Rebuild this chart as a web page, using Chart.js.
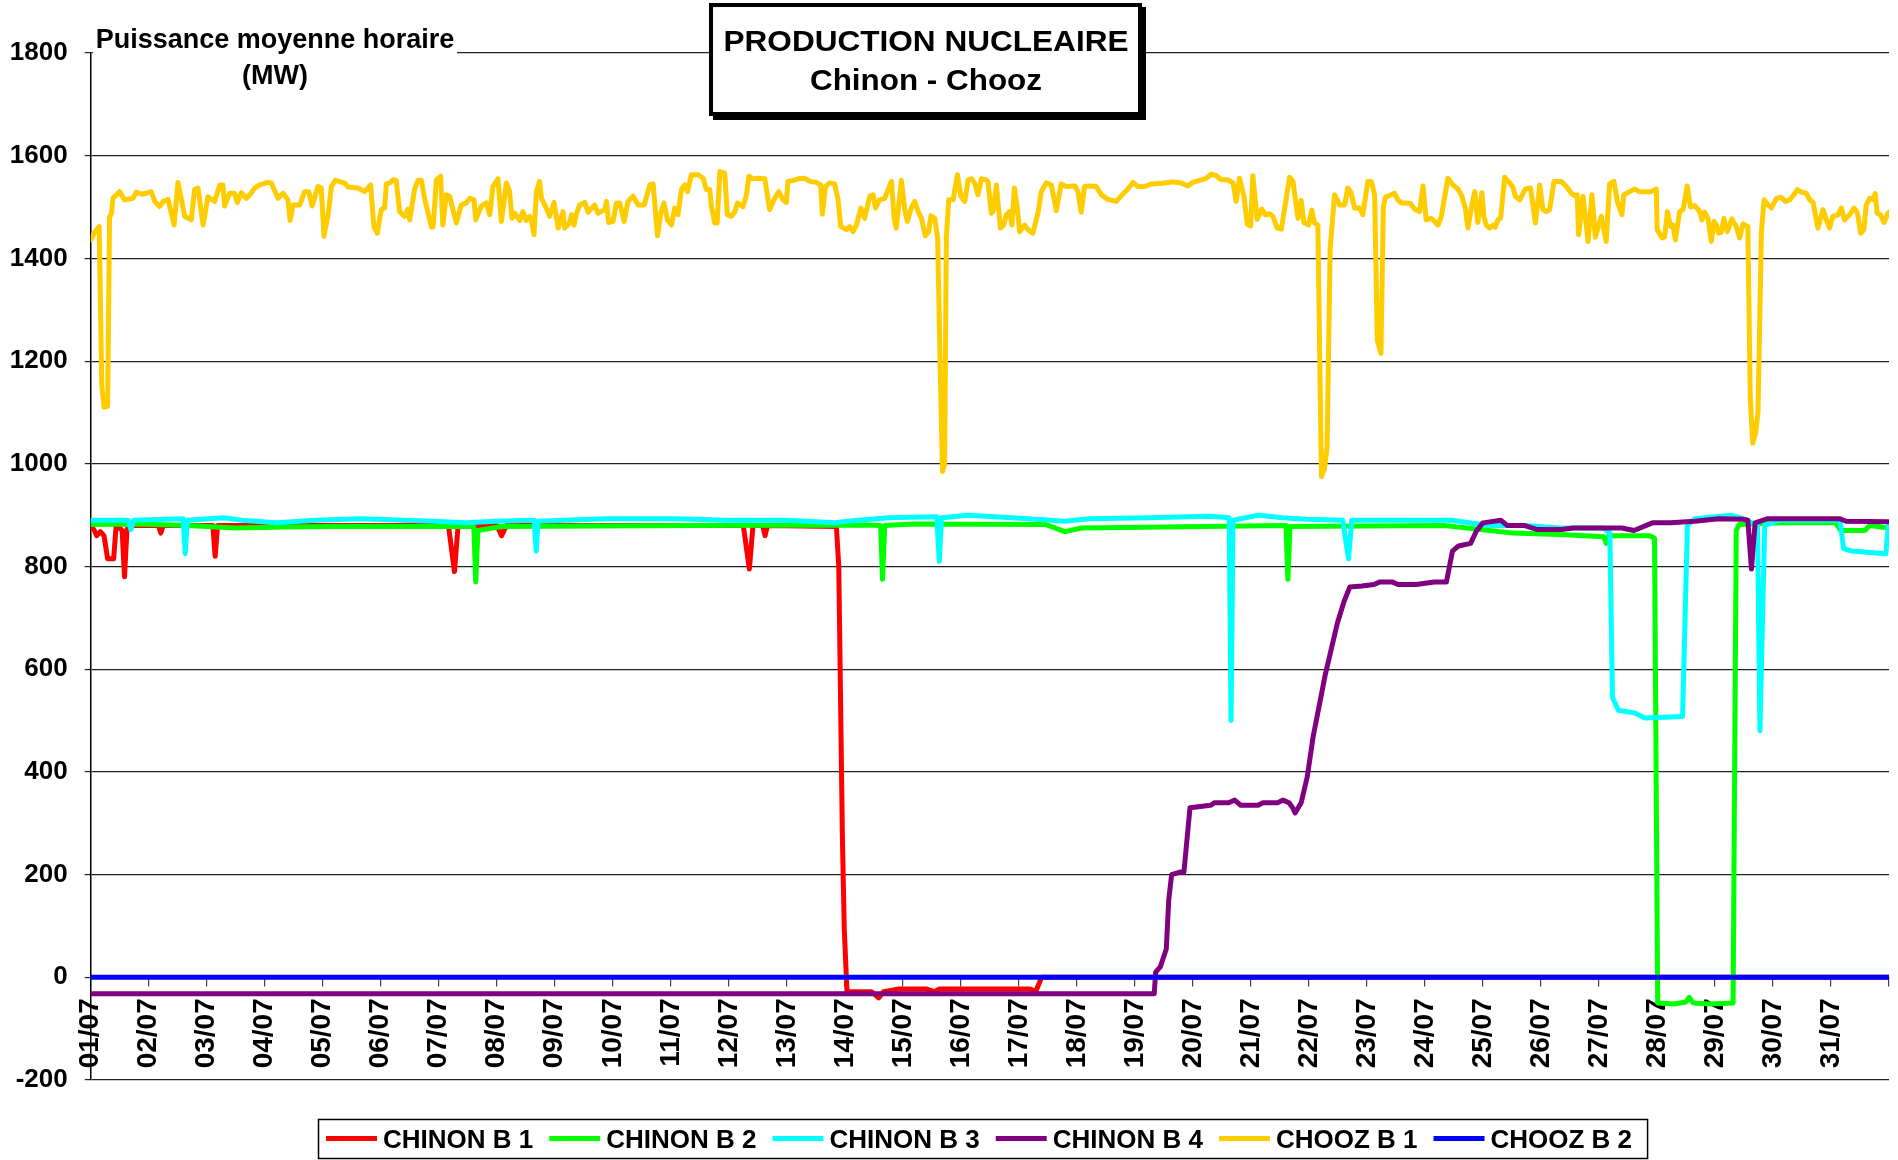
<!DOCTYPE html>
<html>
<head>
<meta charset="utf-8">
<script src="https://cdn.jsdelivr.net/npm/chart.js@4.4.0/dist/chart.umd.min.js"></script>
<style>
  html, body { margin: 0; padding: 0; background: #fff; }
  canvas { display: block; }
</style>
</head>
<body>
<canvas id="myChart" width="1898" height="1160"></canvas>
<script>
// day labels on the time axis (one tick every 24 h, hours 0..744)
var dayLabels = ['01/07','02/07','03/07','04/07','05/07','06/07','07/07','08/07','09/07','10/07',
  '11/07','12/07','13/07','14/07','15/07','16/07','17/07','18/07','19/07','20/07',
  '21/07','22/07','23/07','24/07','25/07','26/07','27/07','28/07','29/07','30/07','31/07'];
var dayTicks = [0,24,48,72,96,120,144,168,192,216,240,264,288,312,336,360,384,408,432,456,
  480,504,528,552,576,600,624,648,672,696,720,744];
var powerTicks = [-200, 0, 200, 400, 600, 800, 1000, 1200, 1400, 1600, 1800];

var seriesNames = ['CHINON B 1', 'CHINON B 2', 'CHINON B 3', 'CHINON B 4', 'CHOOZ B 1', 'CHOOZ B 2'];
var seriesColors = ['#ff0000', '#00ff00', '#00ffff', '#800080', '#ffcc00', '#0000ff'];

// CHINON B 1
var b1Hours = [0, 1.5, 2.5, 4, 5.5, 7, 9.5, 10.5, 12, 13, 14, 15, 16.5, 28, 29, 30, 50.5, 51.5, 52.5,
  148, 150.5, 152, 168, 170, 172, 270, 272.5, 274, 278, 279, 280, 308.5, 309.5, 311, 311.8, 312.9,
  323, 326, 328, 334, 346, 349, 351, 388.7, 391, 393.4, 744];
var b1Values = [880, 870, 860, 868, 860, 815, 815, 878, 875, 870, 780, 872, 880, 880, 865, 880, 880, 820, 880,
  880, 790, 880, 880, 860, 880, 880, 795, 880, 880, 860, 880, 878, 800, 270, 90, -28,
  -28, -40, -28, -23, -23, -28, -23, -23, -28, 0, 0];

// CHINON B 2
var b2Hours = [0, 20, 40, 60, 80, 100, 158.5, 159.3, 160.2, 170, 250, 320, 326.8, 327.6, 328.5, 340,
  395, 403, 410, 494.5, 495.3, 496.2, 560, 575, 588.5, 610, 626, 627, 628, 645, 647, 648.3, 655, 660,
  661.3, 663, 670, 679.5, 680.8, 682, 700, 722, 724, 734, 736, 744];
var b2Values = [882, 883, 880, 875, 877, 878, 878, 770, 870, 878, 880, 881, 880, 775, 880, 883,
  882, 868, 875, 880, 775, 878, 880, 872, 865, 862, 858, 845, 860, 860, 855, -50, -52, -48,
  -39, -50, -52, -50, 870, 882, 885, 885, 870, 870, 880, 875];

// CHINON B 3
var b3Hours = [0, 15.5, 16.6, 17.8, 38.2, 39.1, 40, 55, 62.5, 77, 93, 112, 142, 155, 168, 183.5, 184.3,
  185.1, 213, 243, 263, 288, 308, 313, 330, 350, 351.1, 352, 363, 388, 403, 413, 438, 463, 471, 471.8,
  472.6, 483.3, 493, 503, 518, 520.4, 521.7, 538, 563, 578.4, 593, 608, 626, 628.5, 629.6, 632, 638.6,
  643, 658.6, 660.6, 663.6, 678.6, 683.6, 689.6, 690.6, 692.6, 698.5, 723.7, 725.2, 728.6, 742.7, 743.7];
var b3Values = [890, 890, 872, 890, 893, 825, 890, 895, 890, 885, 890, 893, 888, 885, 888, 890, 830,
  888, 893, 893, 890, 890, 885, 888, 895, 897, 810, 895, 900, 893, 888, 893, 895, 898, 895, 500,
  890, 900, 895, 892, 890, 815, 890, 890, 890, 880, 880, 875, 875, 865, 545, 520, 515,
  505, 508, 880, 893, 900, 893, 880, 480, 880, 890, 890, 835, 830, 825, 880];

// CHINON B 4
var b4Hours = [0, 440, 440.6, 441.5, 442.5, 445, 446, 447.2, 450.7, 452.3, 454.8, 463.3, 465, 470.8,
  473.3, 475.8, 483, 485, 491, 493.3, 495.8, 497.3, 498.3, 500.8, 503.3, 505.8, 508.3, 510.8, 513.3,
  515.8, 518.4, 520.9, 525.9, 530.9, 533.4, 538.4, 540.9, 548.4, 555.9, 560.9, 563.4, 565.9, 570.9,
  573.4, 576, 583.5, 586, 593, 598.5, 608.5, 613.5, 633.5, 638.5, 641, 646.1, 653.6, 663.6, 673.6,
  683.6, 685.6, 687.1, 688.6, 693.6, 723.7, 726.2, 744];
var b4Values = [-32, -32, 10, 15, 20, 55, 150, 200, 205, 205, 330, 335, 340, 340,
  345, 335, 335, 340, 340, 345, 340, 330, 320, 340, 390, 470, 530, 590, 640,
  690, 730, 760, 762, 765, 770, 770, 765, 765, 770, 770, 830, 840, 845,
  870, 885, 890, 880, 880, 872, 872, 875, 875, 870, 875, 885, 885, 888, 893,
  892, 890, 795, 885, 893, 893, 888, 887];

// CHOOZ B 1
var cb1Hours = [0, 1.5, 3.5, 4.6, 5.5, 7, 7.8, 8.6, 9.2, 12, 14, 17.5, 18.9, 21, 23, 25, 26.5, 28.5, 30, 32,
  34.5, 36.1, 38.9, 41.6, 43, 44.4, 46.5, 48.5, 51.3, 53.4, 54.7, 55.4, 57.5, 59.5, 60.7, 62.3, 64.4,
  66.4, 67.8, 69.9, 73.3, 74.7, 77.5, 79.6, 81.6, 82.5, 83.7, 86.5, 88.5, 90.2, 91.6, 94, 95.4, 96.5,
  98.2, 99.6, 101.2, 105, 106.4, 110.6, 113.3, 115.8, 117.2, 118.6, 120.2, 121.6, 122.3, 123.7, 125.1,
  126.4, 127.8, 129.9, 131.3, 132, 134, 135.4, 136.8, 138.4, 141, 141.7, 143, 144.8, 145.7, 147.1,
  148.5, 150.6, 151.3, 153.3, 155.4, 156.8, 158.6, 159.3, 161.6, 163.7, 165.1, 166.4, 168.5, 169.9,
  172, 173.3, 174.3, 175.4, 177.5, 178.8, 180.2, 181.6, 182.3, 183.4, 184.4, 185.7,
  186.5, 188.5, 189.9, 191.7, 193.4, 195.4, 196.1, 198.2, 198.9, 200, 201, 202.3, 204.4, 205.8, 208.5,
  209.9, 212.7, 213.4, 214.3, 216.1, 217.5, 218.9, 220.7, 222.3, 224.4, 226.5, 229, 231.3, 232.7,
  234.5, 235.9, 237.2, 238.6, 240.3, 241.6, 243, 244.4, 245.8, 246.9, 248.5, 251.3, 253.4, 254.7,
  256.1, 256.8, 258.2, 259.2, 260.3, 262.3, 263.4, 265.1, 266.5, 267.6, 269.9, 271.3, 272.3, 274,
  276.1, 278.9, 280.9, 283, 284.7, 286.4, 287.8, 288.5, 290.6, 292.7, 295.4, 297.5, 300.2, 302,
  302.7, 304, 305.8, 307.8, 309.2, 310.3, 312.7, 314, 315.4, 316.8, 318.6, 320.2, 322.3, 323.7,
  324.7, 326.4, 328.5, 329.9, 331.3, 332.4, 333.3, 335.4, 336.8, 337.9, 339.5, 340.9, 342.6, 343.7,
  345.3, 346.7, 347.6, 349.2, 350.4, 351.4, 352.4, 353.3, 354, 355, 356.8, 358.6, 360, 361.6, 363,
  364.4, 365.7, 367.1, 368.5, 370.5,
  371.2, 372.6, 373.3, 374.7, 376.4, 377.8, 378.8, 380.2, 381.1, 382.2, 383.3, 384.3, 386.4, 387.8,
  389.8, 391.9, 393.3, 395.3, 397.4, 399.5, 401.5, 403.6, 407.3, 408.4, 409.8, 411.2, 413.3, 416,
  418.1, 420.8, 424.3, 426.4, 429.1, 431.2, 433.3, 436, 438.8, 444.3, 447.7, 451.2, 453.9, 456,
  459.5, 461.5, 463.6, 465.7, 467.7, 470.5, 472.6, 473.9, 475.3, 477.1, 478.5, 479.9, 480.8, 482.6,
  484.5, 485.9, 487.7, 489.1, 490.9, 492.6, 494.2, 496, 497.4, 499.5, 500.8, 501.9, 503.9, 505.2,
  506.3, 507.7, 509.2, 510.4, 511.5, 512.8, 514.6, 516.7, 518.8, 520.1, 521.5, 522.9, 525, 526.3,
  528.4, 529.8, 531.2, 532.3, 533.8, 534.8, 535.6, 538, 539.4, 540.8, 542.2, 544.3, 546, 547.7,
  549.8, 551.2, 552.5, 554.6, 556,
  557.4, 558.8, 561.5, 563.6, 565.7, 567.3, 568.7, 569.8, 571.2, 572.6, 573.9, 575.6, 576.4, 577.4,
  578.8, 580.2, 581.1, 582.2, 583.3, 585, 587.1, 588.4, 589.4, 591.2, 593.5, 595.7, 597.7, 599.5,
  600.8, 602.2, 603.6, 605.4, 608.4, 610.5, 612.6, 614, 615, 615.6, 617.4, 619.5, 621.1, 622.5,
  625, 627, 628.4, 630.2, 631.6, 633.5, 634.3, 636.7, 638.8, 640.8, 645.7, 647.7, 648.1, 650.1,
  651.2, 652.3, 653.7, 654.6, 655.6, 657.4, 658.8, 660.5, 661.9, 663.6, 665.7, 666.6, 667.7, 669.1,
  670.5, 671.6, 672.6, 673.5, 674.6, 675.7, 677.1, 679, 680.8, 682.2, 683.6, 685.6, 686.6, 687.6,
  688.8, 689.8, 691.2, 692.3, 694, 695.3, 697.4, 699.4, 701.1, 702.9, 704.3, 706.1, 707.7, 709.8,
  711.2, 712.6, 714.6, 716.7, 718.1, 719.4, 720.8, 722.9, 724.3, 725.6, 727.7, 729.5, 730.9, 732.3,
  733.6, 734.6, 736, 737.4, 738.3, 739.1, 740.5, 741.9, 743.6, 744];
var cb1Values = [1436, 1450, 1462, 1150, 1110, 1112, 1480, 1488, 1517, 1530, 1514, 1517, 1529, 1525, 1527, 1530, 1511, 1501, 1511, 1515,
  1465, 1548, 1482, 1475, 1534, 1537, 1465, 1520, 1511, 1543, 1543, 1502, 1527, 1527, 1509, 1528, 1517,
  1527, 1537, 1543, 1548, 1547, 1517, 1527, 1514, 1474, 1504, 1504, 1530, 1530, 1502, 1540, 1537, 1443,
  1485, 1540, 1552, 1547, 1539, 1537, 1530, 1543, 1461, 1449, 1495, 1498, 1545, 1547, 1553,
  1552, 1491, 1482, 1496, 1475, 1535, 1552, 1552, 1511, 1461, 1461, 1553, 1560, 1465, 1524,
  1521, 1482, 1469, 1504, 1508, 1517, 1514, 1475, 1502, 1508, 1485, 1540, 1555, 1472,
  1547, 1530, 1478, 1488, 1474, 1491, 1474, 1482, 1475, 1446, 1530, 1550,
  1517, 1498, 1482, 1509, 1459, 1491, 1459, 1470, 1485, 1465, 1488, 1504, 1509, 1490, 1504,
  1488, 1495, 1511, 1470, 1472, 1508, 1508, 1472, 1511, 1521, 1504, 1504, 1543, 1545,
  1444, 1490, 1508, 1475, 1465, 1498, 1485, 1534, 1543, 1530, 1563, 1563, 1556, 1534,
  1534, 1501, 1469, 1469, 1569, 1566, 1485, 1482, 1491, 1508, 1501, 1524, 1560, 1555,
  1556, 1555, 1495, 1517, 1530, 1514, 1509, 1550, 1552, 1555, 1556, 1550, 1548, 1543,
  1486, 1540, 1547, 1545, 1514, 1462, 1456, 1462, 1452, 1465, 1498, 1478, 1521, 1524,
  1498, 1514, 1517, 1534, 1550, 1478, 1459, 1552, 1495, 1472, 1498, 1511, 1488, 1478,
  1444, 1452, 1483, 1478, 1440, 1200, 985, 1000, 1440, 1514, 1514, 1563, 1521, 1511, 1553,
  1555, 1547, 1524, 1555, 1553,
  1550, 1488, 1491, 1543, 1459, 1465, 1485, 1491, 1465, 1537, 1501, 1452, 1465, 1456,
  1449, 1488, 1530, 1547, 1543, 1493, 1545, 1540, 1541, 1530, 1490, 1540, 1541, 1540,
  1524, 1515, 1511, 1522, 1535, 1548, 1540, 1540, 1545, 1547, 1549, 1547, 1541, 1548,
  1553, 1556, 1564, 1561, 1553, 1553, 1547, 1511, 1556, 1522, 1467, 1463, 1561, 1476,
  1496, 1485, 1487, 1482, 1459, 1457, 1504, 1558, 1550, 1478, 1513, 1470, 1465, 1494,
  1469, 1465, 975, 990, 1030, 1420, 1524, 1504, 1504, 1537, 1527, 1498, 1498, 1485,
  1550, 1550, 1524, 1240, 1215, 1500, 1519, 1524, 1527, 1514, 1508, 1508, 1507, 1496,
  1491, 1541, 1475, 1478, 1472,
  1465, 1482, 1556, 1543, 1535, 1521, 1498, 1459, 1498, 1530, 1470, 1528, 1482, 1465,
  1459, 1465, 1461, 1475, 1478, 1558, 1547, 1539, 1521, 1514, 1535, 1537, 1469, 1543,
  1495, 1491, 1495, 1550, 1550, 1540, 1527, 1522, 1524, 1446, 1521, 1433, 1524, 1441,
  1482, 1433, 1545, 1550, 1511, 1485, 1524, 1530, 1535, 1530, 1530, 1535, 1456, 1440,
  1442, 1491, 1462, 1465, 1436, 1491, 1495, 1541, 1500, 1503, 1491, 1475, 1490, 1478,
  1433, 1472, 1465, 1449, 1451, 1478, 1452, 1477, 1462, 1440, 1467, 1462, 1130, 1040,
  1060, 1100, 1450, 1514, 1504, 1498, 1517, 1519, 1511, 1514, 1522, 1534, 1529, 1527,
  1514, 1509, 1459, 1495, 1475, 1459, 1482, 1485, 1498, 1475, 1485, 1498, 1489, 1449,
  1456, 1504, 1517, 1515, 1526, 1488, 1485, 1470, 1488, 1490];

// CHOOZ B 2
var cb2Hours = [0, 744];
var cb2Values = [0, 0];

var FONT = '"Liberation Sans", Arial, sans-serif';

function toPoints(hours, values) {
  return hours.map(function(h, i) { return { x: h, y: values[i] }; });
}

var allHours = [b1Hours, b2Hours, b3Hours, b4Hours, cb1Hours, cb2Hours];
var allValues = [b1Values, b2Values, b3Values, b4Values, cb1Values, cb2Values];

var datasets = seriesNames.map(function(name, i) {
  return {
    label: name,
    data: toPoints(allHours[i], allValues[i]),
    borderColor: seriesColors[i],
    backgroundColor: seriesColors[i],
    borderWidth: 5,
    order: seriesNames.length - 1 - i   // later series drawn on top, like the original
  };
});

function boldText(ctx, text, cx, baseline, size, width) {
  ctx.save();
  ctx.font = 'bold ' + size + 'px ' + FONT;
  var w = ctx.measureText(text).width;
  ctx.translate(cx, baseline);
  if (width) ctx.scale(width / w, 1);
  ctx.textAlign = 'center';
  ctx.textBaseline = 'alphabetic';
  ctx.fillStyle = '#000';
  ctx.fillText(text, 0, 0);
  ctx.restore();
}

var decorations = {
  id: 'decorations',
  afterDraw: function(chart) {
    var ctx = chart.ctx;

    // axis title, on a white patch over the top grid line
    ctx.save();
    ctx.fillStyle = '#fff';
    ctx.fillRect(93, 26, 364, 72);
    ctx.restore();
    boldText(ctx, 'Puissance moyenne horaire', 275, 48, 27);
    boldText(ctx, '(MW)', 275, 84, 27);

    // title box with shadow
    ctx.save();
    ctx.fillStyle = '#000';
    ctx.fillRect(713, 7, 433, 113);
    ctx.fillStyle = '#fff';
    ctx.fillRect(709, 3, 433, 113);
    ctx.strokeStyle = '#000';
    ctx.lineWidth = 4;
    ctx.strokeRect(711, 5, 429, 109);
    ctx.restore();
    boldText(ctx, 'PRODUCTION NUCLEAIRE', 926, 51, 30, 405);
    boldText(ctx, 'Chinon - Chooz', 926, 90, 30, 232);

    // legend
    ctx.save();
    ctx.font = 'bold 26px ' + FONT;
    var x = 326, lineY = 1138.5, lineLen = 51;
    var startX = x;
    chart.data.datasets.forEach(function(ds) {
      ctx.strokeStyle = ds.borderColor;
      ctx.lineWidth = 5;
      ctx.lineCap = 'butt';
      ctx.beginPath();
      ctx.moveTo(x, lineY);
      ctx.lineTo(x + lineLen, lineY);
      ctx.stroke();
      ctx.fillStyle = '#000';
      ctx.textBaseline = 'alphabetic';
      ctx.textAlign = 'left';
      ctx.fillText(ds.label, x + lineLen + 6, 1148);
      x += lineLen + 6 + ctx.measureText(ds.label).width + 16;
    });
    ctx.strokeStyle = '#000';
    ctx.lineWidth = 1.5;
    ctx.strokeRect(startX - 7.5, 1119.5, x - 16 - startX + 23, 39);
    ctx.restore();
  }
};

var ctx = document.getElementById('myChart').getContext('2d');
window.myChart = new Chart(ctx, {
  type: 'line',
  data: { datasets: datasets },
  plugins: [decorations],
  options: {
    responsive: false,
    animation: false,
    devicePixelRatio: 1,
    layout: { padding: { left: 0, right: 9, top: 53, bottom: 80 } },
    elements: {
      point: { radius: 0, hoverRadius: 0 },
      line: { tension: 0, borderJoinStyle: 'round', borderCapStyle: 'round' }
    },
    plugins: {
      legend: { display: false },
      title: { display: false },
      tooltip: { enabled: false }
    },
    scales: {
      x: {
        type: 'linear',
        min: 0,
        max: 744,
        position: { y: 0 },
        afterBuildTicks: function(axis) {
          axis.ticks = dayTicks.map(function(v) { return { value: v }; });
        },
        afterFit: function(axis) {
          axis.paddingLeft = 0;
          axis.paddingRight = 0;
        },
        grid: { drawOnChartArea: false, drawTicks: true, tickLength: 8, color: '#444', lineWidth: 1.2 },
        border: { display: true, color: '#000', width: 1.5 },
        ticks: {
          autoSkip: false,
          minRotation: 90,
          maxRotation: 90,
          padding: 13,
          color: '#000',
          font: { family: FONT, size: 28, weight: 'bold' },
          callback: function(value) {
            var label = dayLabels[Math.round(value / 24)];
            return label === undefined ? '' : label;
          }
        }
      },
      y: {
        type: 'linear',
        min: -200,
        max: 1800,
        afterBuildTicks: function(axis) {
          axis.ticks = powerTicks.map(function(v) { return { value: v }; });
        },
        afterFit: function(axis) { axis.width = 90.7; },
        grid: { color: '#222', lineWidth: 1.2, drawTicks: true, tickLength: 6 },
        border: { display: true, color: '#000', width: 1.5 },
        ticks: {
          padding: 17,
          color: '#000',
          font: { family: FONT, size: 26, weight: 'bold' },
          callback: function(value) { return String(value); }
        }
      }
    }
  }
});
</script>
</body>
</html>
